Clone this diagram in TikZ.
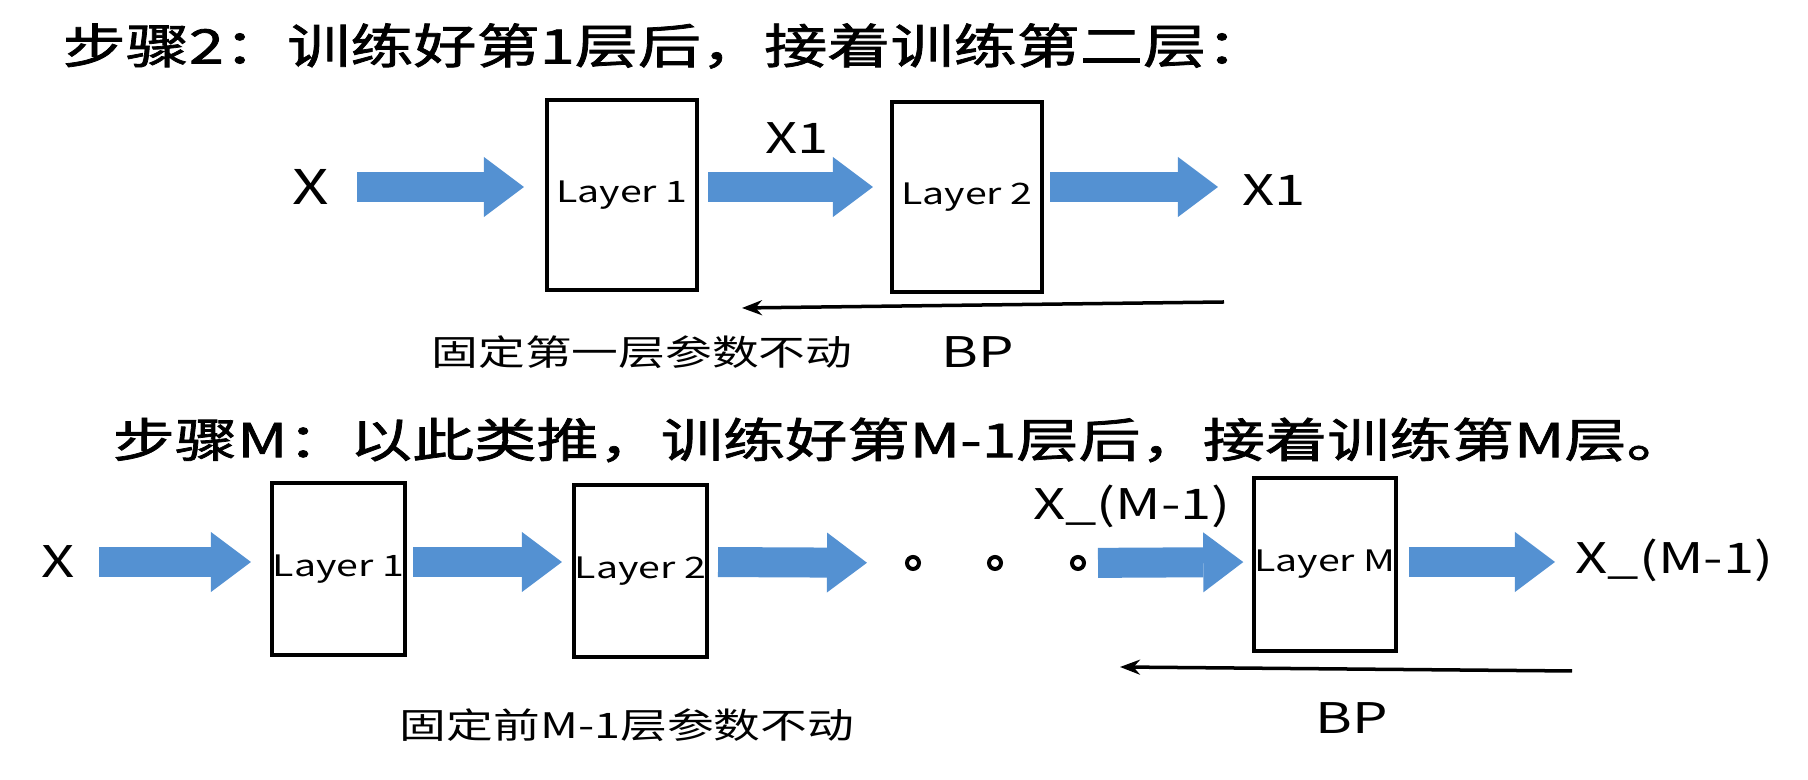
\documentclass[tikz,border=0pt]{standalone}
\usepackage{fontspec}
\usetikzlibrary{arrows.meta,positioning}
\newfontfamily\cjk[FakeStretch=1.33]{Noto Sans CJK SC}
\newfontfamily\cjkhead[FakeStretch=1.33,FakeBold=1.6]{Noto Sans CJK SC}
\definecolor{flowblue}{RGB}{84,145,210}

\begin{document}
\begin{tikzpicture}[x=0.01cm,y=-0.01cm,
    lyr/.style={rectangle,draw,line width=0.04cm,inner sep=0pt,outer sep=0pt,minimum width=1.5cm,minimum height=1.9cm,font=\cjk\fontsize{8.4}{10}\selectfont},
    lyrs/.style={lyr,minimum width=1.33cm,minimum height=1.72cm},
    lbl/.style={inner sep=0pt,font=\cjk\fontsize{12}{14}\selectfont},
    ttl/.style={anchor=west,inner sep=0pt,font=\cjkhead\fontsize{13.5}{16}\selectfont},
    note/.style={inner sep=0pt,font=\cjk\fontsize{10}{12}\selectfont},
    dot/.style={circle,draw,line width=0.04cm,minimum size=0.12cm,inner sep=0pt},
    flow/.style={flowblue,line width=0.3cm,-{Triangle[length=0.4cm,width=0.6cm,line width=0pt]}},
    bp/.style={line width=0.035cm,-{Stealth[length=0.2cm,width=0.15cm]}},
]
\useasboundingbox (0,0) rectangle (1808,780);

\node[ttl] (t1) at (62,46) {步骤2：训练好第1层后，接着训练第二层：};

\node[lbl,font=\cjk\fontsize{13.6}{16}\selectfont] (x) at (311,187) {X};
\node[lyr] (l1) at (622,195) {Layer 1};
\node[lyr] (l2) at (967,197) {Layer 2};
\node[lbl] (x1) at (797,138) {X1};
\node[lbl,anchor=west] (y1) at (1242,190) {X1};
\coordinate (bpa) at (1224,302);
\coordinate (bpb) at (742,308);
\node[note] (fix1) at (642,352) {固定第一层参数不动};
\node[lbl] (bp1) at (978,352) {BP};

\draw[flow,shorten <=0.46cm,shorten >=0.23cm] (x.center) -- (x.center -| l1.west);
\draw[flow,shorten <=0.11cm,shorten >=0.19cm] (l1.east |- x) -- (l2.west |- x);
\draw[flow,shorten <=0.08cm,shorten >=0.24cm] (l2.east |- x) -- (y1.west |- x);
\draw[bp] (bpa) -- (bpb);

\node[ttl,font=\cjkhead\fontsize{13.3}{16}\selectfont] (t2) at (112,440) {步骤M：以此类推，训练好第M-1层后，接着训练第M层。};

\node[lbl,font=\cjk\fontsize{12.4}{15}\selectfont] (xx) at (58,562) {X};
\node[lyrs] (m1) at (338.5,569) {Layer 1};
\node[lyrs] (m2) at (640.5,571) {Layer 2};
\node[dot] (d1) at (913,563) {};
\node[dot] (d2) at (995,563) {};
\node[dot] (d3) at (1078,563) {};
\node[lyrs] (mm) at (1325,564.5) {Layer M};
\node[lbl] (xm) at (1132,506) {X\_(M-1)};
\node[lbl,anchor=west] (ym) at (1575,560) {X\_(M-1)};
\coordinate (bpc) at (1572,671);
\coordinate (bpd) at (1120,667);
\node[note] (fix2) at (627,725) {固定前M-1层参数不动};
\node[lbl] (bp2) at (1352,718) {BP};

\draw[flow,shorten <=0.41cm,shorten >=0.21cm] (xx.center) -- (xx.center -| m1.west);
\draw[flow,shorten <=0.08cm,shorten >=0.12cm] (m1.east |- xx) -- (m2.west |- xx);
\draw[flow,shorten <=0.11cm,shorten >=0.46cm] (m2.east |- xx) -- (d1.center);
\draw[flow,shorten <=0.20cm,shorten >=0.11cm] (d3.center) -- (mm.west |- xx);
\draw[flow,shorten <=0.13cm,shorten >=0.20cm] (mm.east |- xx) -- (ym.west |- xx);
\draw[bp] (bpc) -- (bpd);
\end{tikzpicture}
\end{document}
